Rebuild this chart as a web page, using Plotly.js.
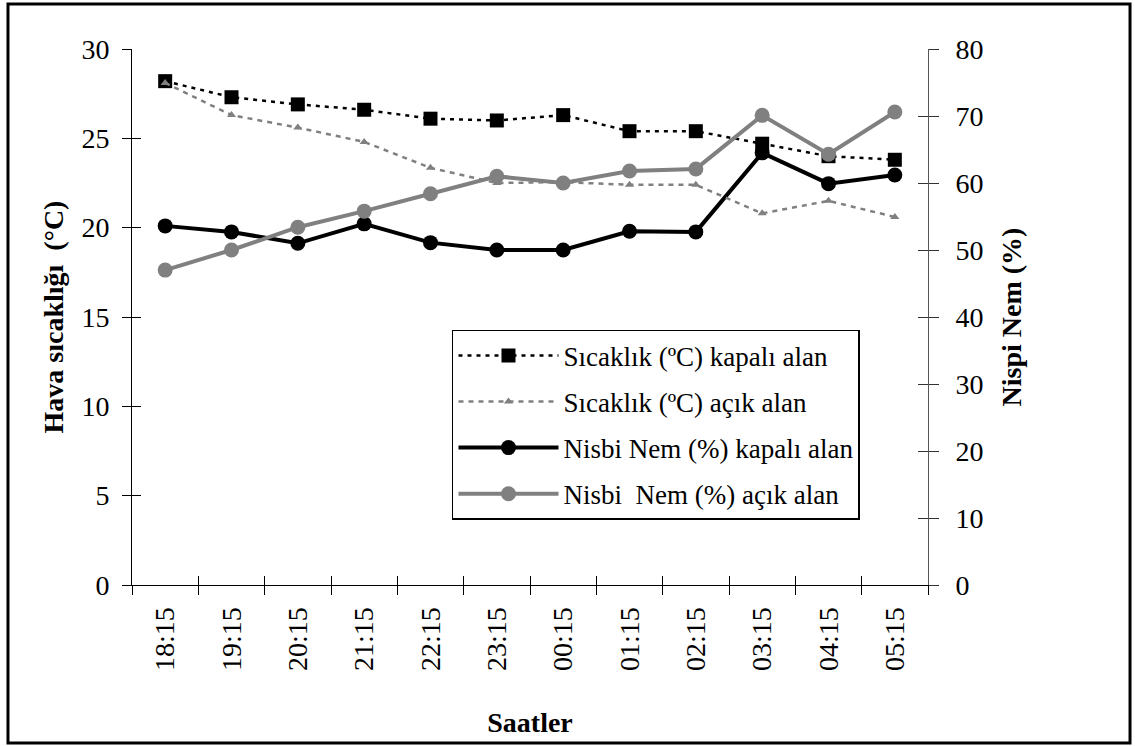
<!DOCTYPE html>
<html>
<head>
<meta charset="utf-8">
<script src="https://cdn.plot.ly/plotly-3.0.1.min.js"></script>
<style>
html,body{margin:0;padding:0;background:#fff;}
#chart{width:1135px;height:746px;}
</style>
</head>
<body>
<div id="chart"></div>
<script>
const categories = ['18:15','19:15','20:15','21:15','22:15','23:15','00:15','01:15','02:15','03:15','04:15','05:15'];
const tempKapali = [28.2, 27.3, 26.9, 26.6, 26.1, 26.0, 26.3, 25.4, 25.4, 24.7, 24.0, 23.8];
const tempAcik   = [28.1, 26.3, 25.6, 24.8, 23.35, 22.5, 22.55, 22.4, 22.4, 20.8, 21.5, 20.6];
const nemKapali  = [53.6, 52.7, 51.0, 53.9, 51.1, 50.0, 50.0, 52.8, 52.7, 64.5, 59.9, 61.2];
const nemAcik    = [47.0, 50.0, 53.4, 55.8, 58.4, 61.0, 60.0, 61.8, 62.1, 70.1, 64.3, 70.6];
const seriesNames = ['Sıcaklık (ºC) kapalı alan','Sıcaklık (ºC) açık alan','Nisbi Nem (%) kapalı alan','Nisbi\u00a0 Nem (%) açık alan'];

const FONT = 'Liberation Serif, Times New Roman, serif';
const GREY = '#808080';

const traces = [
  {x: categories, y: tempKapali, name: seriesNames[0], type: 'scatter', mode: 'lines+markers',
   xaxis: 'x', yaxis: 'y', legendgroup: 'a', legendrank: 1,
   line: {color: '#000', width: 2.5, dash: '4px,5px'},
   marker: {symbol: 'square', size: 14, color: '#000'}},
  {x: categories, y: tempAcik, name: seriesNames[1], type: 'scatter', mode: 'lines+markers',
   xaxis: 'x2', yaxis: 'y3', legendgroup: 'b', legendrank: 2,
   line: {color: GREY, width: 2.5, dash: '5px,5px'},
   marker: {symbol: 'triangle-up', size: 8, color: GREY}},
  {x: categories, y: nemKapali, name: seriesNames[2], type: 'scatter', mode: 'lines+markers',
   xaxis: 'x', yaxis: 'y2', legendgroup: 'c', legendrank: 3,
   line: {color: '#000', width: 4},
   marker: {symbol: 'circle', size: 15, color: '#000'}},
  {x: categories, y: nemAcik, name: seriesNames[3], type: 'scatter', mode: 'lines+markers',
   xaxis: 'x2', yaxis: 'y4', legendgroup: 'd', legendrank: 4,
   line: {color: GREY, width: 4},
   marker: {symbol: 'circle', size: 15, color: GREY}}
];

const tickFont = {family: FONT, size: 28, color: '#000'};
const titleFont = {family: FONT, size: 28, color: '#000'};

const layout = {
  width: 1135, height: 746,
  margin: {l: 132, r: 207, t: 49, b: 161},
  paper_bgcolor: '#fff', plot_bgcolor: '#fff',
  font: {family: FONT, color: '#000'},
  showlegend: true,
  legend: {
    x: 0.402, y: 0.476, xanchor: 'left', yanchor: 'top',
    bgcolor: '#fff', bordercolor: '#000', borderwidth: 1.5,
    font: {family: FONT, size: 27, color: '#000'},
    tracegroupgap: 8, itemwidth: 100, traceorder: 'grouped'
  },
  xaxis: {
    type: 'category', range: [-0.5, 11.5], tickson: 'boundaries',
    ticks: 'outside', ticklen: 9, tickcolor: '#000', tickwidth: 1,
    showline: true, linecolor: '#000', linewidth: 1,
    showgrid: false, zeroline: false, tickangle: -90,
    tickfont: tickFont, ticklabelstandoff: 10,
    title: {text: '<b>Saatler</b>', font: titleFont, standoff: 42}
  },
  xaxis2: {
    type: 'category', overlaying: 'x', anchor: 'y', range: [-0.5, 11.5], tickson: 'boundaries',
    ticks: 'inside', ticklen: 9, tickcolor: '#000', tickwidth: 1,
    showticklabels: false, showline: false, showgrid: false, zeroline: false
  },
  yaxis: {
    range: [0, 30], tickmode: 'linear', tick0: 0, dtick: 5,
    ticks: 'outside', ticklen: 9, tickcolor: '#000', tickwidth: 1,
    showline: true, linecolor: '#000', linewidth: 1,
    showgrid: false, zeroline: false, tickfont: tickFont, ticklabelstandoff: 7,
    title: {text: '<b>Hava sıcaklığı\u00a0 (°C)</b>', font: titleFont, standoff: 9}
  },
  yaxis2: {
    overlaying: 'y', side: 'right', anchor: 'x', range: [0, 80], tickmode: 'linear', tick0: 0, dtick: 10,
    ticks: 'outside', ticklen: 10, tickcolor: '#333', tickwidth: 1,
    showline: true, linecolor: '#555', linewidth: 1,
    showgrid: false, zeroline: false, tickfont: tickFont, ticklabelstandoff: 11,
    title: {text: '<b>Nispi Nem (%)</b>', font: titleFont, standoff: 18}
  },
  yaxis3: {
    overlaying: 'y', side: 'left', anchor: 'x2', range: [0, 30], tickmode: 'linear', tick0: 0, dtick: 5,
    ticks: 'inside', ticklen: 9, tickcolor: '#000', tickwidth: 1,
    showticklabels: false, showline: false, showgrid: false, zeroline: false
  },
  yaxis4: {
    overlaying: 'y', side: 'right', anchor: 'x2', range: [0, 80], tickmode: 'linear', tick0: 0, dtick: 10,
    ticks: 'inside', ticklen: 10, tickcolor: '#333', tickwidth: 1,
    showticklabels: false, showline: false, showgrid: false, zeroline: false
  },
  shapes: [{
    type: 'rect', xref: 'paper', yref: 'paper',
    x0: -0.1558, x1: 1.2538, y0: -0.2948, y1: 1.084,
    line: {color: '#000', width: 3}, fillcolor: 'rgba(0,0,0,0)', layer: 'above'
  }]
};

Plotly.newPlot('chart', traces, layout, {displayModeBar: false, staticPlot: true});
</script>
</body>
</html>
